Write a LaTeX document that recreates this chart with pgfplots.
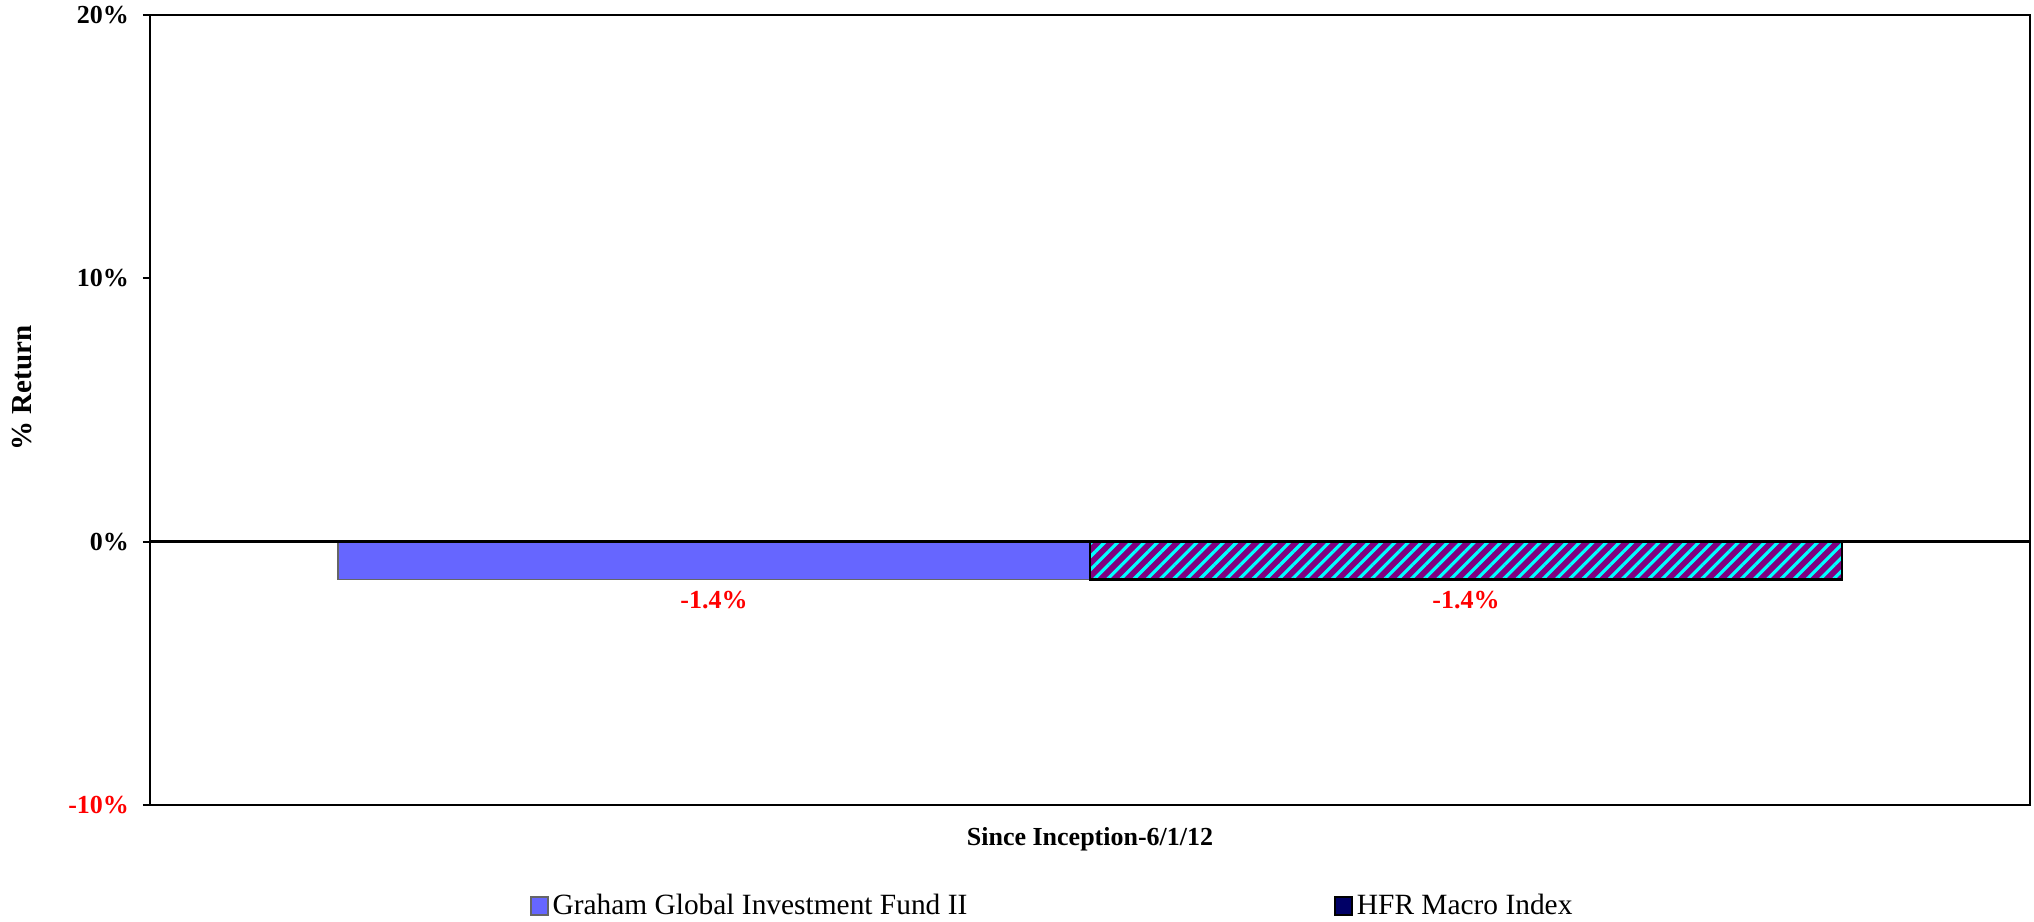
\documentclass[border=0pt]{standalone}
\usepackage{fontspec}
\setmainfont{Liberation Serif}
\usepackage{pgfplots}
\pgfplotsset{compat=1.18}
\usetikzlibrary{patterns}
\pgfdeclarepatternformonly{widestripes}{\pgfqpoint{-1pt}{-1pt}}{\pgfqpoint{7.6pt}{7.6pt}}{\pgfqpoint{6.6pt}{6.6pt}}{%
  \pgfsetlinewidth{1.6pt}%
  \pgfpathmoveto{\pgfqpoint{0pt}{0pt}}%
  \pgfpathlineto{\pgfqpoint{6.6pt}{6.6pt}}%
  \pgfusepath{stroke}}
\definecolor{fundblue}{RGB}{102,102,255}
\definecolor{hfrpurple}{RGB}{128,0,128}
\definecolor{hfrnavy}{RGB}{0,0,102}
\begin{document}
\begin{tikzpicture}
\path[use as bounding box] (-75pt,-58pt) rectangle (942pt,402.5pt);
\begin{axis}[
  at={(0,0)}, anchor=south west,
  width=940pt, height=395pt, scale only axis,
  xmin=-0.5, xmax=0.5, ymin=-10, ymax=20,
  ytick={-10,0,10,20},
  yticklabels={{\color{red}-10\%},0\%,10\%,20\%},
  xtick=\empty, ytick pos=left,
  tick align=outside, major tick length=3.5pt,
  ytick style={black, line width=1pt},
  axis line style={line width=1pt},
  y tick label style={font=\fontsize{13}{15}\selectfont\bfseries, xshift=-3.5pt},
  ylabel={\% Return},
  ylabel style={font=\fontsize{14.5}{16}\selectfont\bfseries, at={(axis description cs:-0.068,0.528)}, anchor=center},
  xlabel={Since Inception-6/1/12},
  xlabel style={font=\fontsize{13}{15}\selectfont\bfseries, at={(axis description cs:0.5,0)}, anchor=center, yshift=-17pt},
  ybar, bar width=0.4,
  legend columns=2,
  legend style={at={(0.2021,-0.1278)}, anchor=west, draw=none, inner sep=0pt,
    font=\fontsize{14.7}{16}\selectfont,
    /tikz/every even column/.append style={column sep=181.5pt}},
]
\addplot[bar shift=-0.2, fill=fundblue, draw=black!60, line width=0.6pt,
  nodes near coords={\pgfmathprintnumber[fixed,precision=1,assume math mode=true]{\pgfplotspointmeta}\%},
  nodes near coords align={vertical},
  every node near coord/.append style={font=\fontsize{13}{15}\selectfont\bfseries, text=red, yshift=-2pt},
  legend image code/.code={\draw[fill=fundblue, draw=black!60, line width=0.6pt] (0pt,-4.5pt) rectangle (8.5pt,4.5pt);}]
  coordinates {(0,-1.44)};
\addlegendentry{Graham Global Investment Fund II}
\addplot[bar shift=0.2, fill=hfrpurple, draw=black, line width=1.2pt,
  nodes near coords={\pgfmathprintnumber[fixed,precision=1,assume math mode=true]{\pgfplotspointmeta}\%},
  nodes near coords align={vertical},
  every node near coord/.append style={font=\fontsize{13}{15}\selectfont\bfseries, text=red, yshift=-2pt},
  legend image code/.code={\draw[fill=hfrnavy, draw=black, line width=0.8pt] (0pt,-4.5pt) rectangle (8.5pt,4.5pt);}]
  coordinates {(0,-1.44)};
\addlegendentry{HFR Macro Index}
\addplot[forget plot, bar shift=0.2, pattern=widestripes, pattern color=cyan, draw=black, line width=1.2pt]
  coordinates {(0,-1.44)};
\draw[black, line width=1.2pt] (axis cs:-0.5,0) -- (axis cs:0.5,0);
\end{axis}
\end{tikzpicture}
\end{document}
